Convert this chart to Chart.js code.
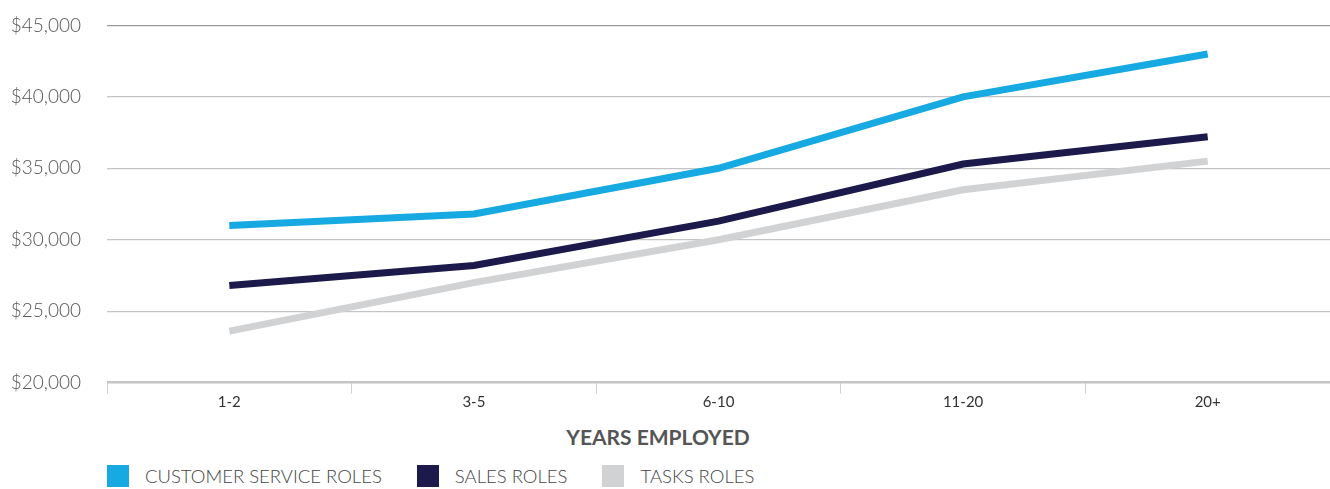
<!DOCTYPE html>
<html>
<head>
<meta charset="utf-8">
<script src="https://cdn.jsdelivr.net/npm/chart.js@4/dist/chart.umd.min.js"></script>
<style>
  html, body { margin: 0; padding: 0; background: #fff; }
  #page { position: relative; width: 1330px; height: 489px; overflow: hidden; font-family: Lato, "Open Sans", sans-serif; }
  #wrap { position: absolute; left: 0; top: -12px; width: 1330px; height: 432px; }
  #axisTitle {
    position: absolute; left: 0; width: 1316px; top: 425px;
    text-align: center; font-size: 21px; font-weight: bold; color: #555; line-height: 24px;
  }
  #legend { position: absolute; left: 107px; top: 465px; display: flex; }
  #legend .item { display: flex; align-items: center; margin-right: 35px; }
  #legend .box { width: 22px; height: 22px; margin-right: 16px; }
  #legend .txt { font-size: 18.5px; font-weight: 300; color: #444; line-height: 22px; }
</style>
</head>
<body>
<div id="page">
  <div id="wrap"><canvas id="salaryChart"></canvas></div>
  <div id="axisTitle">YEARS EMPLOYED</div>
  <div id="legend"></div>
</div>
<script>
// years employed buckets
const yearsLabels = ['1-2', '3-5', '6-10', '11-20', '20+'];

// average pay per bucket
const customerService = [31000, 31800, 35000, 40000, 43000];
const salesRoles = [26800, 28200, 31300, 35300, 37200];
const tasksRoles = [23600, 27000, 30000, 33500, 35500];

const yTicks = [20000, 25000, 30000, 35000, 40000, 45000];

const fontFamily = 'Lato, "Open Sans", sans-serif';

const data = {
    labels: yearsLabels,
    datasets: [
        {
            label: 'CUSTOMER SERVICE ROLES',
            data: customerService,
            borderColor: '#17a9e1',
            backgroundColor: '#17a9e1',
            borderWidth: 7,
            pointRadius: 0,
            tension: 0
        },
        {
            label: 'SALES ROLES',
            data: salesRoles,
            borderColor: '#1b1a4a',
            backgroundColor: '#1b1a4a',
            borderWidth: 7,
            pointRadius: 0,
            tension: 0
        },
        {
            label: 'TASKS ROLES',
            data: tasksRoles,
            borderColor: '#d1d2d4',
            backgroundColor: '#d1d2d4',
            borderWidth: 7,
            pointRadius: 0,
            tension: 0
        }
    ]
};

// legend built in html so it can sit under the axis title
const htmlLegend = {
    id: 'htmlLegend',
    afterUpdate(chart) {
        const box = document.getElementById('legend');
        box.innerHTML = '';
        chart.options.plugins.legend.labels.generateLabels(chart).forEach(item => {
            const el = document.createElement('div');
            el.className = 'item';
            const sw = document.createElement('span');
            sw.className = 'box';
            sw.style.background = item.fillStyle;
            const tx = document.createElement('span');
            tx.className = 'txt';
            tx.textContent = item.text;
            el.appendChild(sw);
            el.appendChild(tx);
            box.appendChild(el);
        });
    }
};

const config = {
    type: 'line',
    data: data,
    plugins: [htmlLegend],
    options: {
        responsive: true,
        maintainAspectRatio: false,
        animation: false,
        layout: { padding: { top: 0, right: 0, left: 0, bottom: 6 } },
        scales: {
            x: {
                offset: true,
                border: { display: false },
                grid: {
                    offset: true,
                    drawOnChartArea: false,
                    drawTicks: true,
                    tickLength: 11,
                    color: '#d0d0d0'
                },
                ticks: {
                    color: '#333',
                    padding: 0,
                    font: { family: fontFamily, size: 15 }
                }
            },
            y: {
                min: 20000,
                max: 45000,
                border: { display: false },
                afterBuildTicks: (axis) => {
                    axis.ticks = yTicks.map(v => ({ value: v }));
                },
                afterFit: (axis) => { axis.width = 107; },
                grid: {
                    drawTicks: false,
                    color: (ctx) => ctx.tick && ctx.tick.value === 45000 ? '#9a9a9a' : '#c4c4c4',
                    lineWidth: (ctx) => ctx.tick && ctx.tick.value === 20000 ? 2.5 : 1.3
                },
                ticks: {
                    color: '#555',
                    padding: 26,
                    font: { family: fontFamily, size: 19, weight: '300' },
                    callback: (v) => '$' + v.toLocaleString('en-US')
                }
            }
        },
        plugins: {
            tooltip: { enabled: false },
            legend: { display: false }
        }
    }
};

const salaryChart = new Chart(document.getElementById('salaryChart'), config);
</script>
</body>
</html>
